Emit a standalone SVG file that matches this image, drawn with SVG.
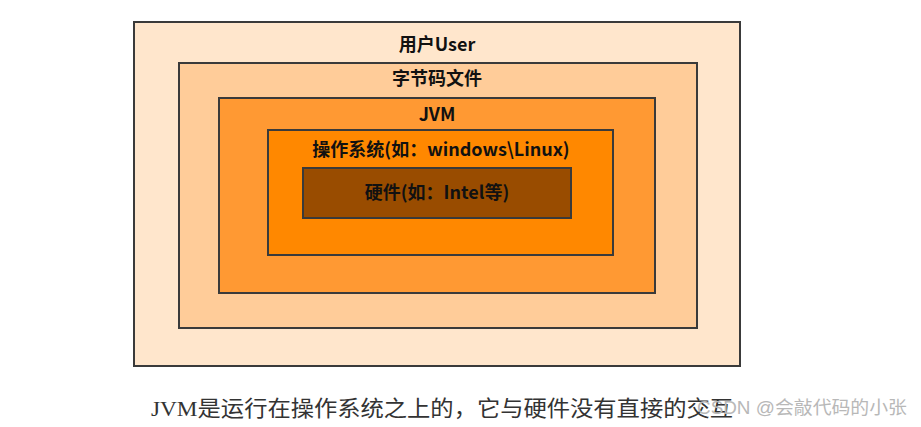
<svg xmlns="http://www.w3.org/2000/svg" width="921" height="427" viewBox="0 0 921 427">
<style>
.box{stroke:#3a3a3a;stroke-width:2}
.lbl{font-family:"Noto Sans CJK SC","Liberation Sans",sans-serif;font-weight:bold;font-size:18px;fill:#111;text-anchor:middle}
.cap{font-family:"Liberation Serif","Noto Sans CJK SC",serif;font-size:22px;fill:#333}
.wm{font-family:"Liberation Sans","Noto Sans CJK SC",sans-serif;font-size:18px;fill:#b8b8b8}
</style>
<rect width="921" height="427" fill="#ffffff"/>
<g id="user">
<rect class="box" x="134" y="22" width="606" height="344" fill="#ffe6cc"/>
<text class="lbl" x="437" y="51">用户User</text>
</g>
<g id="bytecode">
<rect class="box" x="179" y="63" width="518" height="265" fill="#ffcc99"/>
<text class="lbl" x="437" y="85">字节码文件</text>
</g>
<g id="jvm">
<rect class="box" x="219" y="98" width="436" height="195" fill="#ff9933"/>
<text class="lbl" x="437" y="121">JVM</text>
</g>
<g id="os">
<rect class="box" x="268" y="130" width="345" height="125" fill="#ff8800"/>
<text class="lbl" x="441" y="156">操作系统(如：windows\Linux)</text>
</g>
<g id="hardware">
<rect class="box" x="303" y="168" width="268" height="50" fill="#994c00"/>
<text class="lbl" x="437" y="199">硬件(如：Intel等)</text>
</g>
<g id="connectors"></g>
<text class="cap" x="151" y="416" textLength="582" lengthAdjust="spacingAndGlyphs">JVM是运行在操作系统之上的，它与硬件没有直接的交互</text>
<text class="wm" x="697" y="414" textLength="210" lengthAdjust="spacingAndGlyphs">CSDN @会敲代码的小张</text>
</svg>
